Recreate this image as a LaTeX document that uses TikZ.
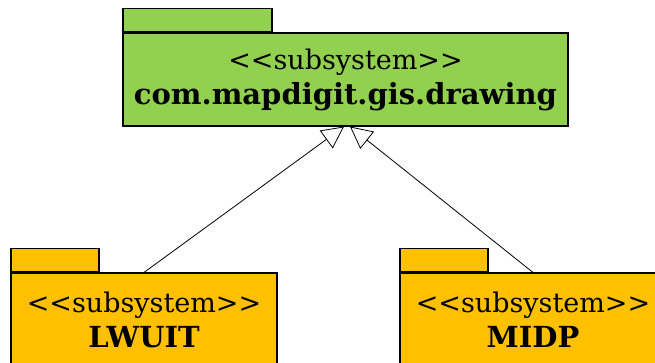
\documentclass[tikz,border=0pt]{standalone}
\usepackage{fontspec}
\setmainfont{DejaVu Serif}
\usetikzlibrary{arrows.meta}

\definecolor{pkggreen}{RGB}{146,208,80}
\definecolor{pkgorange}{RGB}{255,192,0}

\newcommand{\pkgname}[1]{\textbf{\fontsize{29}{35}\selectfont #1}}

\tikzset{
    pkgbody/.style={draw, line width=1.1pt, minimum height=93pt, inner sep=0pt,
        align=center, font=\fontsize{27}{35}\selectfont},
    pkgtab/.style={draw, line width=1.1pt, minimum height=23pt, inner sep=0pt, anchor=south west},
    inherit/.style={-{Triangle[open,length=22pt,width=22pt]}, line width=0.8pt}
}

\begin{document}
\begin{tikzpicture}[x=1pt,y=-1pt]
            \clip (0,0) rectangle (655,363);
            \node[pkgbody, fill=pkggreen, minimum width=445pt] (drawing) at (345.5,79.5) {<{}<subsystem>{}>\\\pkgname{com.mapdigit.gis.drawing}};
            \node[pkgtab, fill=pkggreen, minimum width=149pt] (drawingtab) at (drawing.north west) {};
            \node[pkgbody, fill=pkgorange, minimum width=266pt] (lwuit) at (144,319.5) {<{}<subsystem>{}>\\\pkgname{LWUIT}};
            \node[pkgtab, fill=pkgorange, minimum width=88pt] (lwuittab) at (lwuit.north west) {};
            \node[pkgbody, fill=pkgorange, minimum width=266pt] (midp) at (533,319.5) {<{}<subsystem>{}>\\\pkgname{MIDP}};
            \node[pkgtab, fill=pkgorange, minimum width=88pt] (midptab) at (midp.north west) {};

            \draw[inherit] (lwuit.north) -- ([xshift=-1.5pt]drawing.south);
            \draw[inherit] (midp.north) -- ([xshift=4.5pt]drawing.south);
        \end{tikzpicture}
\end{document}
